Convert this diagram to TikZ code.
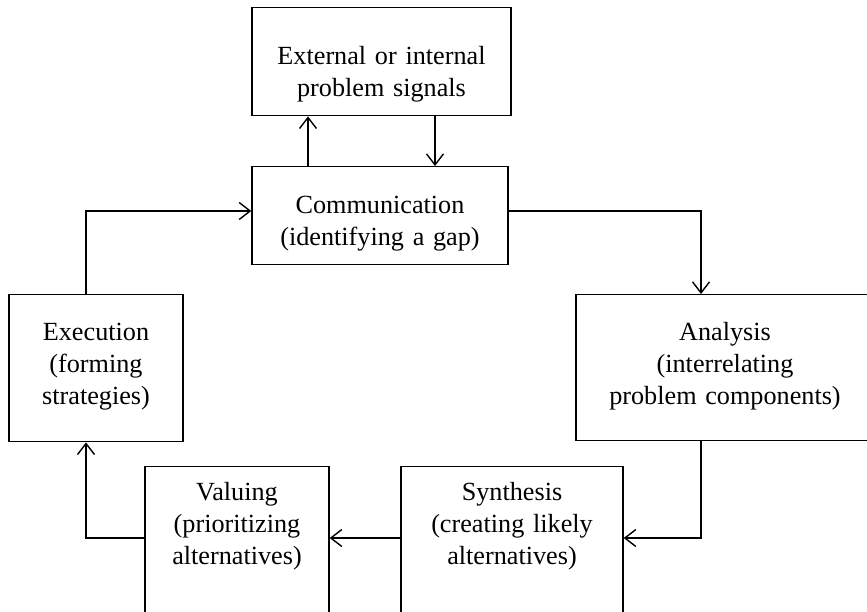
\documentclass[tikz,border=0pt]{standalone}
\usepackage{fontspec}
\setmainfont{Liberation Serif}
\usetikzlibrary{arrows.meta}

\begin{document}
\begin{tikzpicture}[x=0.5pt,y=0.5pt,line width=0.7pt,
        >={Straight Barb[length=5.5pt,width=8.5pt]},
        box/.style={draw,anchor=north,inner sep=0pt,align=center,
          font=\fontsize{13.1pt}{16pt}\selectfont}]
        \useasboundingbox (0,0) rectangle (867,-611);
        \clip (0,0) rectangle (867,-611);
        \node [box,text width=129.5pt,text height=28.5pt,text depth=25.5pt] (ext) at (381.5,-7) {External or internal\\problem signals};
        \node [box,text width=128pt,text height=23.5pt,text depth=25.5pt] (comm) at (380,-166) {Communication\\(identifying a gap)};
        \node [box,text width=87pt,text height=23pt,text depth=50.5pt] (exec) at (96,-294) {Execution\\(forming\\strategies)};
        \node [box,text width=149pt,text height=23pt,text depth=50pt] (ana) at (725,-294) {Analysis\\(interrelating\\problem components)};
        \node [box,text width=92pt,text height=17pt,text depth=80pt] (val) at (237,-466) {Valuing\\(prioritizing\\alternatives)};
        \node [box,text width=111pt,text height=17pt,text depth=80pt] (syn) at (512,-466) {Synthesis\\(creating likely\\alternatives)};
        \coordinate (lane) at (0,-211);
        \coordinate (low) at (0,-538);
        \coordinate (lx) at (86,0);
        \coordinate (rx) at (701,0);
        \coordinate (upx) at (308,0);
        \coordinate (dnx) at (435,0);
        \draw [->] (comm.north -| upx) -- (ext.south -| upx);
        \draw [->] (ext.south -| dnx) -- (comm.north -| dnx);
        \draw [->] (comm.east |- lane) -| (ana.north -| rx);
        \draw [->] (ana.south -| rx) |- (syn.east |- low);
        \draw [->] (syn.west |- low) -- (val.east |- low);
        \draw [->] (val.west |- low) -| (exec.south -| lx);
        \draw [->] (exec.north -| lx) |- (comm.west |- lane);
    \end{tikzpicture}
\end{document}
